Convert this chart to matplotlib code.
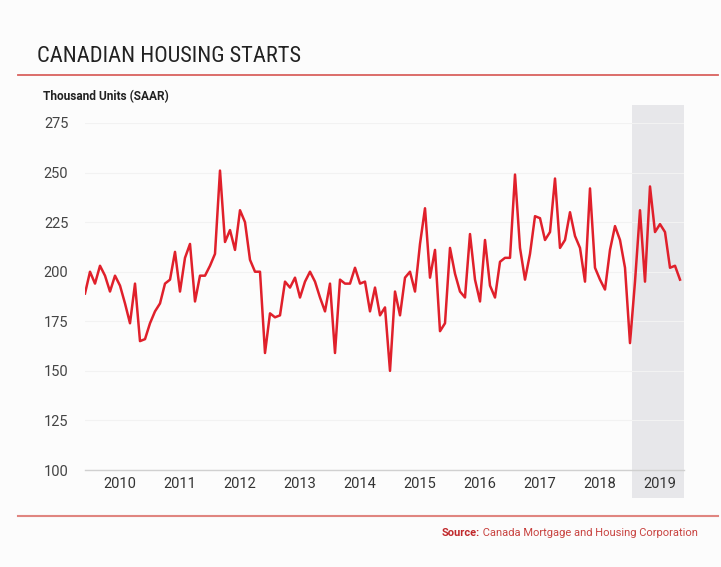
import matplotlib
matplotlib.use("Agg")
import matplotlib.pyplot as plt
from matplotlib.lines import Line2D
from matplotlib import font_manager

# Monthly housing starts, Jan 2010 - Dec 2019 (thousand units, SAAR)
starts = [
    189, 200, 194, 203, 198, 190, 198, 193, 184, 174, 194, 165,   # 2010
    166, 174, 180, 184, 194, 196, 210, 190, 207, 214, 185, 198,   # 2011
    198, 203, 209, 251, 215, 221, 211, 231, 225, 206, 200, 200,   # 2012
    159, 179, 177, 178, 195, 192, 197, 187, 195, 200, 195, 187,   # 2013
    180, 194, 159, 196, 194, 194, 202, 194, 195, 180, 192, 178,   # 2014
    182, 150, 190, 178, 197, 200, 190, 214, 232, 197, 211, 170,   # 2015
    174, 212, 199, 190, 187, 219, 196, 185, 216, 193, 187, 205,   # 2016
    207, 207, 249, 212, 196, 209, 228, 227, 216, 220, 247, 212,   # 2017
    216, 230, 218, 212, 195, 242, 202, 196, 191, 211, 223, 216,   # 2018
    202, 164, 195, 231, 195, 243, 220, 224, 220, 202, 203, 196,   # 2019
]
years = [2010, 2011, 2012, 2013, 2014, 2015, 2016, 2017, 2018, 2019]
year_labels = [str(y) for y in years]
y_ticks = [100, 125, 150, 175, 200, 225, 250, 275]

title = "CANADIAN HOUSING STARTS"
unit_label = "Thousand Units (SAAR)"
source_bold = "Source:"
source_text = " Canada Mortgage and Housing Corporation"

W, H = 721, 567
fig = plt.figure(figsize=(W / 100, H / 100), dpi=100)
fig.patch.set_facecolor("#fcfcfc")

names = {f.name for f in font_manager.fontManager.ttflist}
def fam(*cands):
    got = [n for n in cands if n in names]
    return got + ["DejaVu Sans"] if got else ["DejaVu Sans"]

COND = fam("Roboto Condensed", "Roboto")
REG = fam("Roboto")
plt.rcParams["font.family"] = REG

def fx(px):
    return px / W

def fy(py):
    return 1 - py / H

# axes: left at x=85, right at 684, bottom y=470, top y=123
ax = fig.add_axes([fx(85), fy(470), fx(684) - fx(85), fy(123) - fy(470)])
ax.set_facecolor("none")
ax.set_xlim(0, 119.8)
ax.set_ylim(100, 275)

# shaded 2019 region
ax.axvspan(109.4, 119.8, ymin=(470 - 498) / 347, ymax=(470 - 105) / 347,
           color="#e7e7ea", zorder=0, clip_on=False, lw=0)

months = list(range(len(starts)))
ax.plot(months, starts, color="#e0202b", lw=1.8, zorder=3)

for s in ["top", "right", "left"]:
    ax.spines[s].set_visible(False)
ax.spines["bottom"].set_color("#d0d0d0")
ax.spines["bottom"].set_linewidth(1.0)

ax.set_yticks(y_ticks)
ax.set_yticklabels([str(v) for v in y_ticks], fontsize=10.5, color="#444444", family=REG)
ax.yaxis.grid(True, color="#f2f2f2", lw=0.8)
ax.set_axisbelow(True)
ax.tick_params(axis="y", length=0, pad=12)

xpos = [12 * k + 7 for k in range(len(years))]
ax.set_xticks(xpos)
ax.set_xticklabels(year_labels, fontsize=10.5, color="#333333", family=REG)
ax.tick_params(axis="x", length=0, pad=5)

# title & rules
fig.text(fx(37), fy(57), title, fontsize=16.2, color="#222222", va="center", ha="left",
         family=COND)
fig.add_artist(Line2D([fx(18), fx(718)], [fy(75), fy(75)], color="#d9625e", lw=1.3))
fig.text(fx(43), fy(97), unit_label, fontsize=8.6, fontweight="bold",
         color="#222222", va="center", ha="left", family=REG)
fig.add_artist(Line2D([fx(18), fx(718)], [fy(516), fy(516)], color="#e08580", lw=1.5))

src_fs = 8.0
t2 = fig.text(fx(698), fy(533), source_text, fontsize=src_fs, color="#c8423f",
              va="center", ha="right", family=REG)
fig.canvas.draw()
bb = t2.get_window_extent()
fig.text(bb.x0 / fig.dpi / fig.get_figwidth(), fy(533), source_bold, fontsize=src_fs,
         fontweight="bold", color="#c0282b", va="center", ha="right", family=REG)

fig.savefig("out.png", dpi=100, facecolor=fig.get_facecolor())
